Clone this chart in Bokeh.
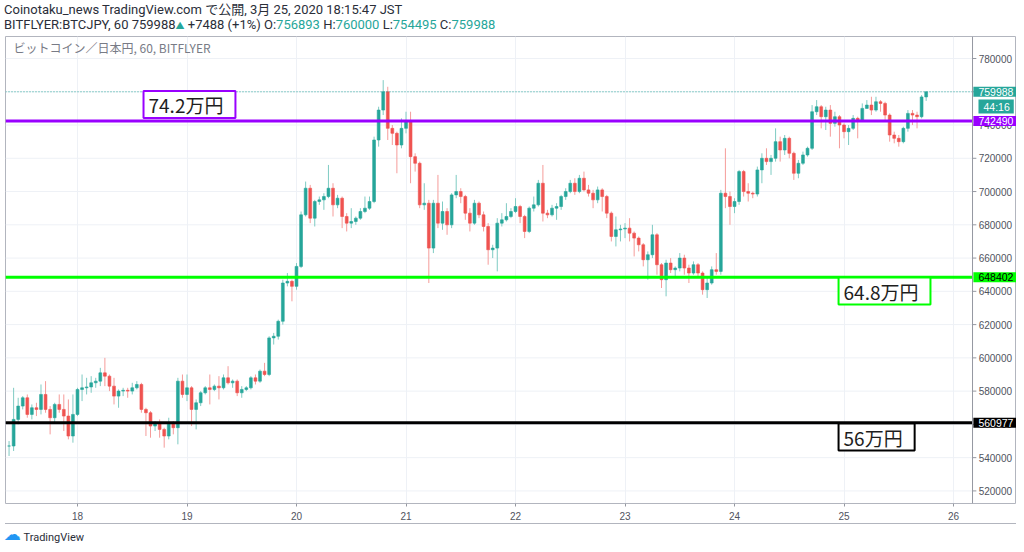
import pandas as pd
from bokeh.plotting import figure
from bokeh.layouts import column
from bokeh.models import (ColumnDataSource, Span, Label, FixedTicker, Range1d, Div,
                          DatetimeTickFormatter)
from bokeh.embed import file_html
from bokeh.resources import INLINE

# ---------------- data (hourly BTC/JPY, values in thousand yen) ----------------
first_bar = "2020-03-17 09:00"

open_k = [
    547, 547, 563, 571, 576, 566, 570, 569, 578, 569,
    564, 572, 569, 565, 553, 566, 581, 582, 582.5, 585,
    586, 591, 589, 583, 577, 580, 580.5, 580, 582, 584,
    569, 567, 559, 561, 557, 553, 561, 558, 586, 578,
    582, 569, 573, 579, 582, 581, 583, 582, 588, 585,
    586, 579, 581, 582, 588, 586, 592, 590, 612, 613,
    622, 645, 646, 643, 655, 686, 702, 684, 694, 695,
    697, 702, 692, 696, 685, 681, 682, 684, 688, 690,
    694, 731, 749, 760, 738, 735, 728, 738, 742, 721,
    717, 692, 693, 666, 693, 681, 688, 680, 698, 700,
    697, 687, 681, 693, 686, 679, 665, 666, 681, 683,
    685, 688, 691, 685, 676, 690, 692, 705, 687, 686,
    690, 691, 697, 700, 705, 700, 708, 701, 699, 695,
    701, 697, 687, 673, 677, 677.5, 678, 675, 672, 668,
    659, 662, 674, 656, 647, 657, 653, 654, 660, 654,
    651, 656, 651, 641, 645, 653, 652, 699, 697, 691,
    694, 712, 700, 699, 698.5, 713, 720, 718, 720, 730,
    725, 732, 723, 711, 717, 722, 726, 748, 751, 745,
    749, 741, 745, 740, 736, 738, 744, 743, 750, 752,
    749, 754, 753, 746, 734, 732, 730, 738, 747, 746,
    745, 756.893,
]
high_k = [
    550, 582, 576, 577, 578, 572, 573, 584, 586, 571,
    573, 578, 578, 575, 578, 582, 590, 588, 589, 588,
    594, 600, 590, 588, 581, 582, 582, 585, 586, 585,
    570, 568, 562, 563, 558, 564, 562, 588, 590, 590,
    583, 575, 580, 583, 590, 584, 589, 590, 595, 587,
    587, 583, 583, 589, 590, 593, 597, 613, 615, 623,
    647, 651, 647, 657, 688, 706, 704, 695, 697, 699,
    716, 705, 698, 697, 687, 690, 685, 690, 697, 697,
    733, 751, 767, 763, 740, 736, 744, 748, 748, 723,
    718, 705, 695, 695, 710, 694, 690, 699, 710, 702,
    698, 690, 695, 694, 688, 681, 668, 684, 687, 693,
    690, 696, 692, 686, 691, 697, 707, 716, 689, 692,
    693, 698, 702, 707, 708, 710, 712, 704, 701, 703,
    702, 698, 688, 685, 680, 681, 684, 676, 673, 669,
    664, 680, 675, 657, 659, 660, 655, 663, 662, 656,
    658, 657, 652, 649, 655, 663, 701, 726, 700, 696,
    713, 713, 705, 700, 715, 723, 726, 722, 738, 733,
    734, 733, 724, 719, 724, 727, 752, 755, 752, 751,
    752, 748, 746, 741, 740, 746, 745, 753, 755, 757,
    757, 755, 754, 747, 736, 734, 739, 749, 749, 748,
    758, 760,
]
low_k = [
    541, 544, 560, 569, 564, 563, 565, 566, 567, 554,
    561, 567, 556, 551, 549, 565, 574, 578, 579, 582,
    583, 583, 580, 572, 570, 577, 576, 578, 581, 567,
    553, 552, 556, 552, 546, 551, 554, 548, 576, 574,
    559, 557, 571, 578, 572, 580, 575, 581, 584, 582,
    577, 576, 580, 581, 584, 585, 589, 589, 608, 611,
    620, 643, 634, 641, 654, 685, 681, 679, 692, 689,
    696, 685, 690, 678, 676, 678, 680, 683, 687, 689,
    693, 727, 746, 731, 728, 711, 726, 735, 705, 712,
    690, 689, 645, 663, 678, 677, 674, 678, 696, 693,
    683, 676, 680, 684, 676, 656, 660, 652, 679, 682,
    684, 687, 681, 672, 675, 688, 691, 682, 684, 685,
    683, 689, 695, 699, 698, 699, 700, 697, 690, 693,
    688, 684, 670, 667, 670, 672, 670, 661, 664, 655,
    647, 660, 650, 642, 637, 651, 648, 652, 650, 645,
    650, 648, 638, 636, 644, 650, 650, 690, 680, 687,
    692, 697, 694, 696, 697, 705, 716, 710, 718, 718,
    722, 720, 707, 708, 716, 721, 725, 746, 738, 737,
    733, 739, 726, 732, 728, 737, 732, 742, 750, 746,
    748, 748, 743, 730, 729, 727, 729, 736, 740, 738,
    744, 754.495,
]
close_k = [
    547, 563, 571, 576, 566, 570, 569, 578, 569, 564,
    572, 569, 565, 553, 566, 581, 582, 582.5, 585, 586,
    591, 589, 583, 577, 580, 580.5, 580, 582, 584, 569,
    567, 559, 561, 557, 553, 561, 558, 586, 578, 582,
    569, 573, 579, 582, 581, 583, 582, 588, 585, 586,
    579, 581, 582, 588, 586, 592, 590, 612, 613, 622,
    645, 646, 643, 655, 686, 702, 684, 694, 695, 697,
    702, 692, 696, 685, 681, 682, 684, 688, 690, 694,
    731, 749, 760, 738, 735, 728, 738, 742, 721, 717,
    692, 693, 666, 693, 681, 688, 680, 698, 700, 697,
    687, 681, 693, 686, 679, 665, 666, 681, 683, 685,
    688, 691, 685, 676, 690, 692, 705, 687, 686, 690,
    691, 697, 700, 705, 700, 708, 701, 699, 695, 701,
    697, 687, 673, 677, 677.5, 678, 675, 672, 668, 659,
    662, 674, 656, 647, 657, 653, 654, 660, 654, 651,
    656, 651, 641, 645, 653, 652, 699, 697, 691, 694,
    712, 700, 699, 698.5, 713, 720, 718, 720, 730, 725,
    732, 723, 711, 717, 722, 726, 748, 751, 745, 749,
    741, 745, 740, 736, 738, 744, 743, 750, 752, 749,
    754, 753, 746, 734, 732, 730, 738, 747, 746, 745,
    756.893, 759.988,
]

level_purple = 742490
level_green = 648402
level_black = 560977
last_price = 759988
countdown = "44:16"
label_purple = "74.2万円"
label_green = "64.8万円"
label_black = "56万円"
day_ticks = ["2020-03-18", "2020-03-19", "2020-03-20", "2020-03-21", "2020-03-22",
             "2020-03-23", "2020-03-24", "2020-03-25", "2020-03-26"]
price_ticks = [520000, 540000, 560000, 580000, 600000, 620000, 640000,
               660000, 680000, 700000, 720000, 740000, 760000, 780000]

header_line1 = "Coinotaku_news TradingView.com で公開, 3月 25, 2020 18:15:47 JST"
symbol_text = "BITFLYER:BTCJPY, 60 759988"
change_text = "+7488 (+1%)"
ohlc_labels = ["O:", "H:", "L:", "C:"]
ohlc_values = ["756893", "760000", "754495", "759988"]
inner_title = "ビットコイン／日本円, 60, BITFLYER"
brand = "TradingView"

# ---------------- styling ----------------
UP = "#26a69a"
DOWN = "#ef5350"
UP_W = "#7fcbc3"
DOWN_W = "#f59c9a"
PURPLE = "#9900ff"
GREEN = "#00ff00"
BLACK = "#000000"
AXIS = "#9598a1"
TXT = "#50535e"
GRID = "#eef1f6"
JP = "Noto Sans CJK JP"
HR = 3600000.0

origin = pd.Timestamp("2020-03-17 00:00")
def at_hour(h):
    return origin.value / 1e6 + h * HR

# positions (hours since 2020-03-17 00:00) of layout features
frame_left_h = 8.22
frame_right_h = 229.8
axis_h = 220.16       # price-axis line
tick_end_h = 221.0
tick_label_h = 221.5
box_h = 220.35
countdown_h = 229.2

# ---------------- candles ----------------
times = pd.date_range(first_bar, periods=len(close_k), freq="h")
inc = [c >= o for o, c in zip(open_k, close_k)]
src = ColumnDataSource(dict(
    t=times,
    h=[v * 1000 for v in high_k],
    l=[v * 1000 for v in low_k],
    top=[max(o, c) * 1000 for o, c in zip(open_k, close_k)],
    bot=[min(o, c) * 1000 for o, c in zip(open_k, close_k)],
    body=[UP if i else DOWN for i in inc],
    wick=[UP_W if i else DOWN_W for i in inc],
))

p = figure(width=1016, height=488, x_axis_type="datetime",
           x_range=Range1d(at_hour(frame_left_h), at_hour(frame_right_h)),
           y_range=Range1d(512430, 793230),
           output_backend="svg", toolbar_location=None,
           min_border_left=5, min_border_right=0, min_border_top=1, min_border_bottom=20)
p.yaxis.visible = False
p.background_fill_color = "white"
p.border_fill_color = "white"
p.outline_line_color = "#b2b5be"

# price-axis strip drawn inside the frame
tick_src = ColumnDataSource(dict(y=price_ticks, txt=[str(v) for v in price_ticks]))
p.segment(x0=at_hour(frame_left_h), x1=at_hour(axis_h), y0="y", y1="y",
          line_color=GRID, line_width=1, source=tick_src)
p.segment(x0=at_hour(axis_h), x1=at_hour(tick_end_h), y0="y", y1="y",
          line_color=AXIS, line_width=1, source=tick_src)
p.text(x=at_hour(tick_label_h), y="y", text="txt", source=tick_src,
       text_font_size="10px", text_color=TXT, text_baseline="middle", text_align="left")
p.add_layout(Span(location=at_hour(axis_h), dimension="height", line_color=AXIS, line_width=1))

p.segment(x0="t", y0="l", x1="t", y1="h", line_color="wick", line_width=1, source=src)
p.vbar(x="t", width=0.62 * HR, top="top", bottom="bot",
       fill_color="body", line_color="body", line_width=0.6, source=src)

# horizontal levels
lvl = ColumnDataSource(dict(y=[level_purple, level_green, level_black],
                            c=[PURPLE, GREEN, BLACK]))
p.segment(x0=at_hour(frame_left_h), x1=at_hour(axis_h), y0="y", y1="y",
          line_color="c", line_width=3, source=lvl)
p.segment(x0=at_hour(frame_left_h), x1=at_hour(axis_h), y0=last_price, y1=last_price,
          line_color=UP, line_width=1, line_dash="1 2")

# x axis
p.xaxis.ticker = FixedTicker(ticks=[pd.Timestamp(d).value / 1e6 for d in day_ticks])
p.xaxis.formatter = DatetimeTickFormatter(days="%d", hours="%d", months="%d")
p.xaxis.axis_line_color = None
p.xaxis.major_tick_line_color = AXIS
p.xaxis.major_tick_in = 0
p.xaxis.major_tick_out = 3
p.xaxis.minor_tick_line_color = None
p.xaxis.major_label_text_font_size = "10px"
p.xaxis.major_label_text_color = TXT
p.xaxis.major_label_standoff = 5
p.xgrid.grid_line_color = GRID
p.ygrid.grid_line_color = None

# price boxes on the price axis
for yv, txt, bg, fg in [(last_price, str(last_price), UP, "white"),
                        (level_purple, str(level_purple), PURPLE, "white"),
                        (level_green, str(level_green), GREEN, "#000000"),
                        (level_black, str(level_black), BLACK, "white")]:
    p.add_layout(Label(x=at_hour(box_h), y=yv, text=txt,
                       text_font_size="10.5px", text_color=fg,
                       text_baseline="middle", text_align="left",
                       background_fill_color=bg, background_fill_alpha=1.0,
                       padding=(5, 4, 1, 1)))
p.add_layout(Label(x=at_hour(countdown_h), y=751100, text=countdown,
                   text_font_size="10.5px", text_color="white",
                   text_baseline="middle", text_align="right",
                   background_fill_color=UP, background_fill_alpha=1.0,
                   padding=(5, 4, 1, 1)))

# annotation boxes in the chart
for hx, yv, txt, col in [(38.47, 752340, label_purple, PURPLE),
                         (190.8, 640200, label_green, GREEN),
                         (190.8, 552410, label_black, BLACK)]:
    p.add_layout(Label(x=at_hour(hx), y=yv, text=txt, text_font=JP, text_font_size="19px",
                       text_color="#1e1e1e", text_baseline="middle", text_align="left",
                       background_fill_color="white", background_fill_alpha=1.0,
                       border_line_color=col, border_line_width=2,
                       padding=(5, 12, 0, 0)))

p.add_layout(Label(x=8, y=456, x_units="screen", y_units="screen", text=inner_title,
                   text_font=JP, text_font_size="12px", text_color="#787b86",
                   text_baseline="middle"))

# ---------------- header / footer ----------------
teal = lambda s: f'<span style="color:{UP}">{s}</span>'
line2 = (f'{symbol_text}<span style="color:{UP};font-size:9px">▲</span> {change_text} '
         + " ".join(f"{a}{teal(b)}" for a, b in zip(ohlc_labels, ohlc_values)))
header = Div(width=1016, height=35, margin=0, text=(
    '<div style="font-family:Roboto,\'Noto Sans CJK JP\',sans-serif;font-size:13px;'
    'line-height:15px;color:#2a2e39;padding:2px 0 0 4px;white-space:nowrap">'
    f'{header_line1}<br>{line2}</div>'))
footer = Div(width=1016, height=21, margin=0, text=(
    '<div style="margin-left:5px;width:1011px;height:0;border-top:1px solid #b2b5be"></div>'
    '<div style="font-family:Roboto,sans-serif;font-size:11px;line-height:14px;'
    'color:#2a2e39;padding:5px 0 0 4px;white-space:nowrap">'
    '<span style="color:#2196f3;font-family:\'DejaVu Sans\';font-size:17px;'
    'line-height:10px;vertical-align:1px">☁</span> '
    f'{brand}</div>'))

layout = column(header, p, footer, spacing=0)
open("out.html", "w").write(file_html(layout, INLINE))
